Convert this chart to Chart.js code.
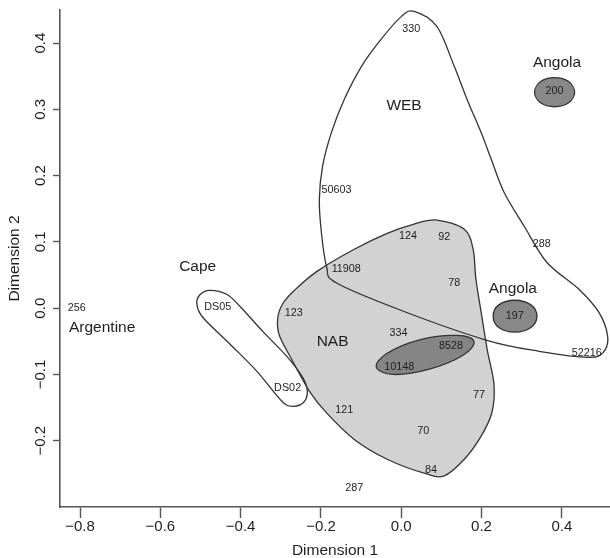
<!DOCTYPE html>
<html>
<head>
<meta charset="utf-8">
<script src="https://cdn.jsdelivr.net/npm/chart.js@4.4.1/dist/chart.umd.min.js"></script>
<style>
    html, body { margin: 0; padding: 0; background: #fff; }
    #wrap { width: 610px; height: 558px; }
</style>
</head>
<body>
<div id="wrap"><canvas id="mds"></canvas></div>
<script>
// sample positions on the two MDS dimensions
const sampleNames = ['330', '200', '50603', '124', '92', '288', '11908', '78', '197', '334', '8528',
    '10148', '52216', '77', '121', '70', '84', '287', '256', 'DS05', 'DS02', '123'];
const sampleDim1 = [0.025, 0.382, -0.161, 0.017, 0.107, 0.350, -0.137, 0.132, 0.283, -0.007, 0.124,
    -0.005, 0.462, 0.194, -0.142, 0.055, 0.074, -0.117, -0.808, -0.457, -0.283, -0.268];
const sampleDim2 = [0.421, 0.327, 0.178, 0.109, 0.107, 0.097, 0.059, 0.038, -0.012, -0.038, -0.057,
    -0.089, -0.068, -0.131, -0.154, -0.186, -0.244, -0.271, 0.000, 0.002, -0.121, -0.008];

// group names
const groupNames = ['Angola', 'WEB', 'Angola', 'NAB', 'Argentine', 'Cape'];
const groupDim1 = [0.388, 0.007, 0.278, -0.171, -0.745, -0.507];
const groupDim2 = [0.371, 0.305, 0.029, -0.050, -0.030, 0.063];

// hand drawn group outlines (points along the border)
const webDim1 = [0.032, 0.089, 0.132, 0.164, 0.199, 0.224, 0.256, 0.306, 0.363, 0.442, 0.492, 0.514,
    0.504, 0.467, 0.343, 0.211, 0.007, -0.161, -0.186, -0.199, -0.204, -0.196, -0.174, -0.142, -0.099, -0.050, 0.000];
const webDim2 = [0.448, 0.425, 0.365, 0.315, 0.265, 0.225, 0.175, 0.124, 0.069, 0.029, -0.006, -0.042,
    -0.066, -0.074, -0.065, -0.048, -0.005, 0.038, 0.063, 0.115, 0.164, 0.214, 0.265, 0.315, 0.365, 0.406, 0.440];

const nabDim1 = [0.089, 0.157, 0.179, 0.186, 0.199, 0.214, 0.231, 0.226, 0.199, 0.157, 0.107, 0.057,
    -0.035, -0.117, -0.186, -0.229, -0.273, -0.303, -0.308, -0.296, -0.266, -0.209, -0.117, -0.035, 0.032];
const nabDim2 = [0.133, 0.119, 0.089, 0.044, -0.006, -0.062, -0.115, -0.157, -0.193, -0.228, -0.253, -0.249,
    -0.228, -0.198, -0.158, -0.125, -0.077, -0.042, -0.017, 0.006, 0.027, 0.056, 0.089, 0.113, 0.127];

const capeDim1 = [-0.477, -0.435, -0.402, -0.345, -0.286, -0.246, -0.234, -0.243, -0.271, -0.298,
    -0.360, -0.427, -0.494, -0.509, -0.502];
const capeDim2 = [0.027, 0.021, 0.003, -0.035, -0.072, -0.104, -0.125, -0.142, -0.148, -0.140,
    -0.095, -0.054, -0.014, 0.006, 0.020];

const mixDim1 = [0.181, 0.154, 0.070, -0.020, -0.062, -0.035, 0.050, 0.139];
const mixDim2 = [-0.050, -0.071, -0.092, -0.100, -0.089, -0.068, -0.047, -0.041];

const angolaNDim1 = [0.432, 0.417, 0.382, 0.347, 0.332, 0.347, 0.382, 0.417];
const angolaNDim2 = [0.326, 0.310, 0.304, 0.310, 0.326, 0.342, 0.348, 0.342];

const angolaSDim1 = [0.338, 0.323, 0.283, 0.243, 0.229, 0.243, 0.283, 0.323];
const angolaSDim2 = [-0.012, -0.029, -0.036, -0.029, -0.012, 0.005, 0.012, 0.005];

const xTicks = [-0.8, -0.6, -0.4, -0.2, 0.0, 0.2, 0.4];
const yTicks = [-0.2, -0.1, 0.0, 0.1, 0.2, 0.3, 0.4];

const FONT = '"Liberation Sans", Arial, Helvetica, sans-serif';
const INK = '#1e1e1e';

const toPoints = (xs, ys) => xs.map((x, i) => ({ x: x, y: ys[i] }));

function outline(name, xs, ys, area) {
    return {
        label: name,
        kind: 'outline',
        areaColor: area,
        data: toPoints(xs, ys),
        pointRadius: 0,
        pointHoverRadius: 0,
        showLine: false
    };
}

function textSet(name, names, xs, ys, size) {
    return {
        label: name,
        kind: 'text',
        names: names,
        fontSize: size,
        data: toPoints(xs, ys),
        pointRadius: 0,
        pointHoverRadius: 0,
        showLine: false
    };
}

// closed smooth curve through the outline points
function trace(ctx, pts) {
    const n = pts.length;
    const p = (i) => pts[(i + n) % n];
    ctx.beginPath();
    ctx.moveTo(p(0).x, p(0).y);
    for (let i = 0; i < n; i++) {
        const p0 = p(i - 1), p1 = p(i), p2 = p(i + 1), p3 = p(i + 2);
        ctx.bezierCurveTo(
            p1.x + (p2.x - p0.x) / 6, p1.y + (p2.y - p0.y) / 6,
            p2.x - (p3.x - p1.x) / 6, p2.y - (p3.y - p1.y) / 6,
            p2.x, p2.y
        );
    }
    ctx.closePath();
}

const drawShapes = {
    id: 'drawShapes',
    beforeDatasetsDraw(chart) {
        const ctx = chart.ctx;
        const a = chart.chartArea;
        ctx.save();
        ctx.beginPath();
        ctx.rect(a.left, a.top, a.right - a.left, a.bottom - a.top);
        ctx.clip();
        chart.data.datasets.forEach((ds, i) => {
            if (ds.kind !== 'outline' || !ds.areaColor) return;
            trace(ctx, chart.getDatasetMeta(i).data);
            ctx.fillStyle = ds.areaColor;
            ctx.fill();
        });
        chart.data.datasets.forEach((ds, i) => {
            if (ds.kind !== 'outline') return;
            trace(ctx, chart.getDatasetMeta(i).data);
            ctx.strokeStyle = '#333';
            ctx.lineWidth = 1.3;
            ctx.stroke();
        });
        ctx.restore();
    },
    afterDatasetsDraw(chart) {
        const ctx = chart.ctx;
        ctx.save();
        ctx.fillStyle = INK;
        ctx.textAlign = 'center';
        ctx.textBaseline = 'middle';
        chart.data.datasets.forEach((ds, i) => {
            if (ds.kind !== 'text') return;
            ctx.font = ds.fontSize + 'px ' + FONT;
            chart.getDatasetMeta(i).data.forEach((el, j) => {
                ctx.fillText(ds.names[j], el.x, el.y);
            });
        });
        ctx.restore();
    }
};

const fmt = (v) => (v < 0 ? '\u2212' : '') + Math.abs(v).toFixed(1);

new Chart(document.getElementById('mds'), {
    type: 'scatter',
    data: {
        datasets: [
            outline('WEB', webDim1, webDim2, null),
            outline('NAB', nabDim1, nabDim2, '#d2d2d2'),
            outline('Cape', capeDim1, capeDim2, null),
            outline('10148/8528', mixDim1, mixDim2, '#858585'),
            outline('Angola 200', angolaNDim1, angolaNDim2, '#888888'),
            outline('Angola 197', angolaSDim1, angolaSDim2, '#888888'),
            textSet('samples', sampleNames, sampleDim1, sampleDim2, 10.8),
            textSet('groups', groupNames, groupDim1, groupDim2, 15.5)
        ]
    },
    options: {
        responsive: true,
        maintainAspectRatio: false,
        animation: false,
        events: [],
        layout: { padding: { top: 10, right: 0, left: 0, bottom: 0 } },
        plugins: {
            legend: { display: false },
            tooltip: { enabled: false }
        },
        scales: {
            x: {
                type: 'linear',
                min: -0.85,
                max: 0.52,
                afterBuildTicks: (s) => { s.ticks = xTicks.map((v) => ({ value: v })); },
                afterFit: (s) => { s.height = 51; },
                grid: { drawOnChartArea: false, drawTicks: true, tickLength: 11, tickColor: '#555', tickWidth: 1.4 },
                border: { display: true, color: '#555', width: 1.6 },
                ticks: { color: INK, padding: 0, font: { family: FONT, size: 15 }, callback: (v) => fmt(v) },
                title: {
                    display: true, text: 'Dimension 1', color: INK,
                    font: { family: FONT, size: 15.5, lineHeight: 1 }, padding: { top: 0, bottom: 0 }
                }
            },
            y: {
                type: 'linear',
                min: -0.30,
                max: 0.45,
                afterBuildTicks: (s) => { s.ticks = yTicks.map((v) => ({ value: v })); },
                afterFit: (s) => { s.width = 60; },
                grid: { drawOnChartArea: false, drawTicks: true, tickLength: 7, tickColor: '#555', tickWidth: 1.4 },
                border: { display: true, color: '#555', width: 1.6 },
                ticks: {
                    color: INK, padding: -3, minRotation: 90, maxRotation: 90, crossAlign: 'center',
                    font: { family: FONT, size: 15 }, callback: (v) => fmt(v)
                },
                title: {
                    display: true, text: 'Dimension 2', color: INK,
                    font: { family: FONT, size: 15.5, lineHeight: 1 }, padding: { top: 7, bottom: 0 }
                }
            }
        }
    },
    plugins: [drawShapes]
});
</script>
</body>
</html>
